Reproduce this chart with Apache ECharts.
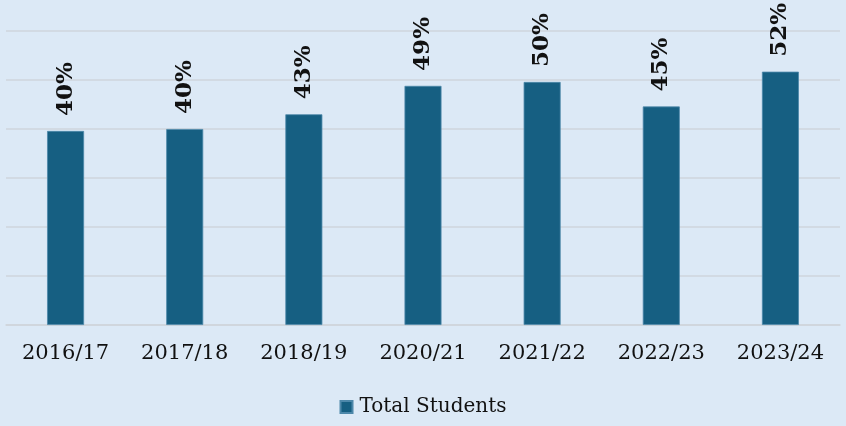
<!doctype html>
<html>
<head>
  <meta charset="UTF-8" />
  <title>Total Students</title>
  <script src="https://cdn.jsdelivr.net/npm/echarts@6/dist/echarts.min.js"></script>
  <style>
    html, body { margin: 0; padding: 0; background: #dce9f6; }
    #chart { width: 846px; height: 426px; }
  </style>
</head>
<body>
  <div id="chart"></div>
  <script>
    // values (percent)
    const years = ['2016/17', '2017/18', '2018/19', '2020/21', '2021/22', '2022/23', '2023/24'];
    const totalStudents = [39.6, 40.0, 43.0, 48.8, 49.6, 44.6, 51.7];
    const seriesName = 'Total Students';
    const yTicks = [0, 10, 20, 30, 40, 50, 60];

    const font = '"DejaVu Serif", "Liberation Serif", serif';
    const chart = echarts.init(document.getElementById('chart'));

    chart.setOption({
      backgroundColor: '#dce9f6',
      animation: false,
      grid: { left: 6, right: 6, top: 31, bottom: 101, containLabel: false },
      legend: {
        bottom: 4,
        left: 'center',
        itemWidth: 12,
        itemHeight: 12,
        icon: 'rect',
        textStyle: { fontFamily: font, fontSize: 20, color: '#111', padding: [0, 0, 0, 2] },
        data: [seriesName]
      },
      xAxis: {
        type: 'category',
        data: years,
        axisLine: { lineStyle: { color: '#cfd5dc', width: 1.5 } },
        axisTick: { show: false },
        axisLabel: { fontFamily: font, fontSize: 21, color: '#111', margin: 18 }
      },
      yAxis: {
        type: 'value',
        min: yTicks[0],
        max: yTicks[yTicks.length - 1],
        interval: 10,
        axisLabel: { show: false },
        axisLine: { show: false },
        axisTick: { show: false },
        splitLine: { lineStyle: { color: '#cfd5dc', width: 1.5 } }
      },
      series: [{
        name: seriesName,
        type: 'bar',
        data: totalStudents,
        barWidth: 37,
        itemStyle: { color: '#165f82', borderColor: '#4d88aa', borderWidth: 0.8 },
        label: {
          show: true,
          position: 'top',
          rotate: 90,
          align: 'left',
          verticalAlign: 'middle',
          distance: 15,
          fontFamily: font,
          fontWeight: 'bold',
          fontSize: 23,
          color: '#111',
          formatter: p => Math.round(p.value) + '%'
        }
      }]
    });
  </script>
</body>
</html>
